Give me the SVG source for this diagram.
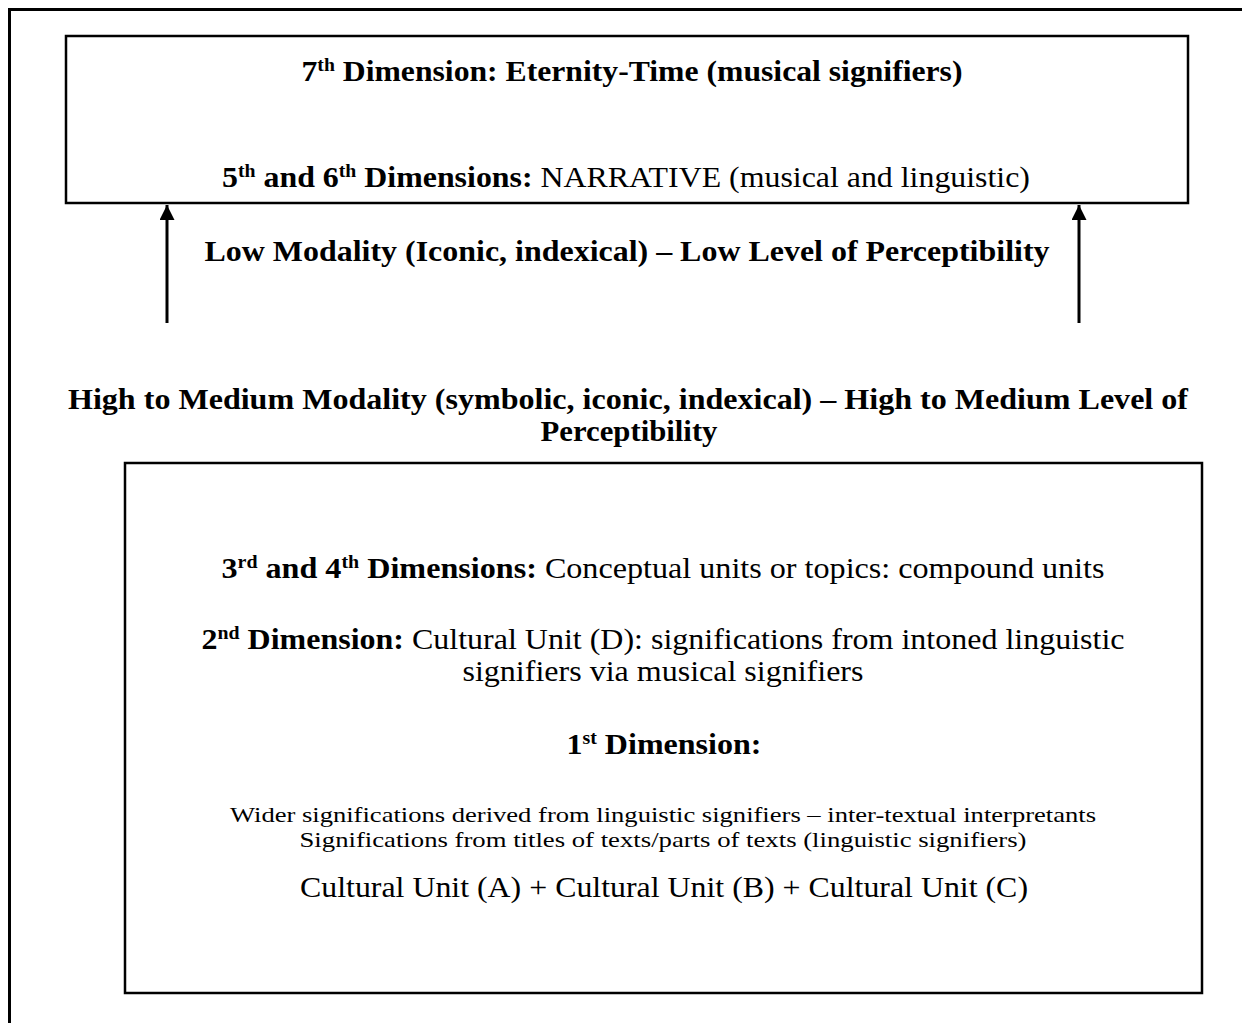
<svg xmlns="http://www.w3.org/2000/svg" width="1242" height="1023" viewBox="0 0 1242 1023">
  <style>
    .frame { fill: none; stroke: #000; stroke-width: 3; }
    .box { fill: #fff; stroke: #000; stroke-width: 2.5; }
    .arrow { stroke: #000; stroke-width: 3; fill: none; }
    text { font-family: "Liberation Serif", "Times New Roman", serif; fill: #000; text-anchor: middle; }
    .b { font-weight: bold; }
    .big { font-size: 29px; }
    .small { font-size: 22px; }
    .sup { font-size: 18px; }
  </style>
  <defs>
    <marker id="head" viewBox="0 0 10 10" refX="10" refY="5" markerWidth="5" markerHeight="5" orient="auto" markerUnits="strokeWidth">
      <path d="M0,0 L10,5 L0,10 Z" fill="#000"/>
    </marker>
  </defs>

  <rect width="1242" height="1023" fill="#fff"/>
  <!-- page frame, open to the right and bottom -->
  <path class="frame" d="M9.5,1023 V9.5 H1242"/>

  <!-- upper box: dimensions 5 to 7 -->
  <g id="upper">
    <rect class="box" x="66" y="36" width="1122" height="167"/>
    <text class="big b" x="632" y="81" textLength="661" lengthAdjust="spacingAndGlyphs">7<tspan class="sup" dy="-10">th</tspan><tspan dy="10"> Dimension: Eternity-Time (musical signifiers)</tspan></text>
    <text class="big" x="626" y="187" textLength="808" lengthAdjust="spacingAndGlyphs"><tspan class="b">5<tspan class="sup" dy="-10">th</tspan><tspan dy="10"> and 6</tspan><tspan class="sup" dy="-10">th</tspan><tspan dy="10"> Dimensions:</tspan></tspan> NARRATIVE (musical and linguistic)</text>
  </g>

  <!-- connectors rising to the upper box -->
  <g id="connectors">
    <line class="arrow" x1="167" y1="323" x2="167" y2="205" marker-end="url(#head)"/>
    <line class="arrow" x1="1079" y1="323" x2="1079" y2="205" marker-end="url(#head)"/>
  </g>

  <g id="low-modality">
    <text class="big b" x="627" y="261" textLength="845" lengthAdjust="spacingAndGlyphs">Low Modality (Iconic, indexical) – Low Level of Perceptibility</text>
  </g>

  <g id="high-modality">
    <text class="big b" x="628" y="409" textLength="1120" lengthAdjust="spacingAndGlyphs">High to Medium Modality (symbolic, iconic, indexical) – High to Medium Level of</text>
    <text class="big b" x="629" y="441" textLength="177" lengthAdjust="spacingAndGlyphs">Perceptibility</text>
  </g>

  <!-- lower box: dimensions 1 to 4 -->
  <g id="lower">
    <rect class="box" x="125" y="463" width="1077" height="530"/>
    <text class="big" x="663" y="578" textLength="883" lengthAdjust="spacingAndGlyphs"><tspan class="b">3<tspan class="sup" dy="-10">rd</tspan><tspan dy="10"> and 4</tspan><tspan class="sup" dy="-10">th</tspan><tspan dy="10"> Dimensions:</tspan></tspan> Conceptual units or topics: compound units</text>
    <text class="big" x="663" y="649" textLength="923" lengthAdjust="spacingAndGlyphs"><tspan class="b">2<tspan class="sup" dy="-10">nd</tspan><tspan dy="10"> Dimension:</tspan></tspan> Cultural Unit (D): significations from intoned linguistic</text>
    <text class="big" x="663" y="681" textLength="401" lengthAdjust="spacingAndGlyphs">signifiers via musical signifiers</text>
    <text class="big b" x="664" y="754" textLength="195" lengthAdjust="spacingAndGlyphs">1<tspan class="sup" dy="-10">st</tspan><tspan dy="10"> Dimension:</tspan></text>
    <text class="small" x="663" y="822" textLength="866" lengthAdjust="spacingAndGlyphs">Wider significations derived from linguistic signifiers – inter-textual interpretants</text>
    <text class="small" x="663" y="847" textLength="727" lengthAdjust="spacingAndGlyphs">Significations from titles of texts/parts of texts (linguistic signifiers)</text>
    <text class="big" x="664" y="897" textLength="728" lengthAdjust="spacingAndGlyphs">Cultural Unit (A) + Cultural Unit (B) + Cultural Unit (C)</text>
  </g>
</svg>
